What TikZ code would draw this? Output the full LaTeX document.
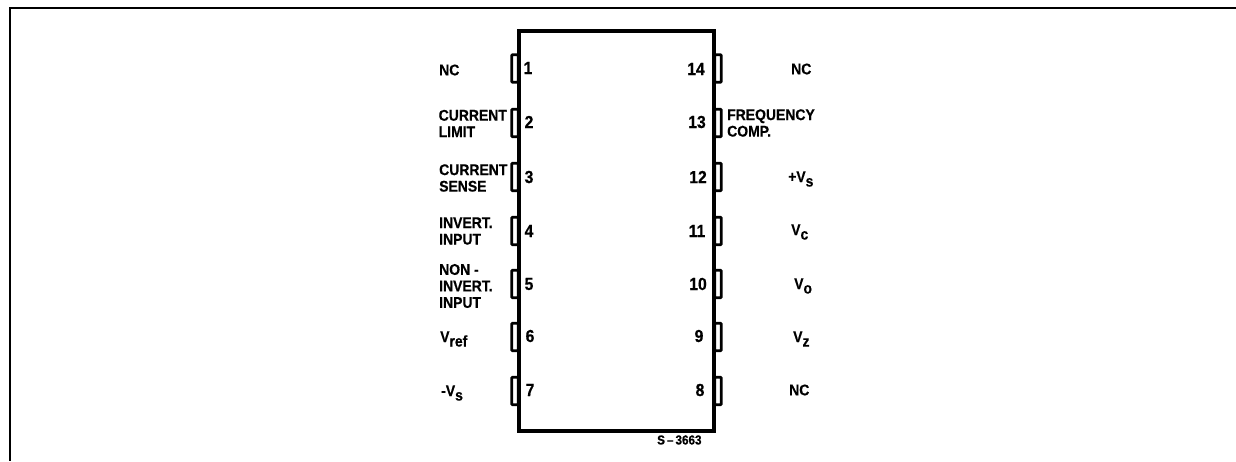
\documentclass[tikz,border=0pt]{standalone}
\usepackage{fontspec}
\setmainfont[BoldFeatures={FakeBold=0.5,FakeStretch=0.9}]{Liberation Sans}
\newcommand{\lowtext}[1]{\raisebox{-4.5pt}{#1}}
\begin{document}
\begin{tikzpicture}[x=1pt,y=-1pt,font=\fontsize{15.5}{16.5}\selectfont\bfseries]
      \tikzstyle{pin node}=[rectangle,draw,line width=2.6pt,rounded corners=0.8pt,inner sep=0,minimum width=6.5pt,minimum height=27.5pt]
      \tikzstyle{chip node}=[rectangle,draw,line width=3.2pt,inner sep=0,minimum width=195pt,minimum height=400pt]
      \tikzstyle{num node}=[inner sep=0,font=\fontsize{17.5}{18}\selectfont\bfseries]
      \tikzstyle{left node}=[inner sep=0,anchor=west,align=left]
      \tikzstyle{frame line}=[line width=2pt]

      \useasboundingbox (0,0) rectangle (1236,461);

      \coordinate (c1) at (1236,7.5);
      \coordinate (c2) at (10,7.5);
      \coordinate (c3) at (10,461);
      \draw[frame line] (c1) -- (c2) -- (c3);

      \node(p1)[pin node] at (515,68.5){};
      \node(p2)[pin node] at (515,123){};
      \node(p3)[pin node] at (515,177){};
      \node(p4)[pin node] at (515,231){};
      \node(p5)[pin node] at (515,284){};
      \node(p6)[pin node] at (515,337){};
      \node(p7)[pin node] at (515,391){};
      \node(p8)[pin node] at (718,391){};
      \node(p9)[pin node] at (718,337){};
      \node(p10)[pin node] at (718,284){};
      \node(p11)[pin node] at (718,231){};
      \node(p12)[pin node] at (718,177){};
      \node(p13)[pin node] at (718,123){};
      \node(p14)[pin node] at (718,68.5){};
      \node(chip)[chip node] at (616.5,231){};

      \node(n1)[num node] at (528,68){1};
      \node(n2)[num node] at (529,122){2};
      \node(n3)[num node] at (529,177){3};
      \node(n4)[num node] at (529,231){4};
      \node(n5)[num node] at (529,284){5};
      \node(n6)[num node] at (530,336){6};
      \node(n7)[num node] at (530,390){7};
      \node(n8)[num node] at (700,390){8};
      \node(n9)[num node] at (699,336){9};
      \node(n10)[num node] at (698,284){10};
      \node(n11)[num node] at (697,231){11};
      \node(n12)[num node] at (698,177){12};
      \node(n13)[num node] at (697,122){13};
      \node(n14)[num node] at (696,69){14};

      \node(nc1)[left node] at (439,70){NC};
      \node(limit)[left node] at (438.5,123.5){CURRENT\\LIMIT};
      \node(sense)[left node] at (439,178){CURRENT\\SENSE};
      \node(invert)[left node] at (439,231){INVERT.\\INPUT};
      \node(noninvert)[left node] at (439,286){NON -\\INVERT.\\INPUT};
      \node(vref)[left node] at (440,339){V\lowtext{ref}};
      \node(vminus)[left node] at (441,393){-V\lowtext{s}};

      \node(nc14)[left node] at (791,69){NC};
      \node(comp)[left node] at (727,123){FREQUENCY\\COMP.};
      \node(vplus)[left node] at (788,179){+V\lowtext{s}};
      \node(vc)[left node] at (791,232){V\lowtext{c}};
      \node(vo)[left node] at (794,286){V\lowtext{o}};
      \node(vz)[left node] at (793,339){V\lowtext{z}};
      \node(nc8)[left node] at (789,390){NC};

      \node(code)[left node,font=\fontsize{13}{14}\selectfont\bfseries] at (657,440){S{\kern2pt}–{\kern2pt}3663};
\end{tikzpicture}
\end{document}
